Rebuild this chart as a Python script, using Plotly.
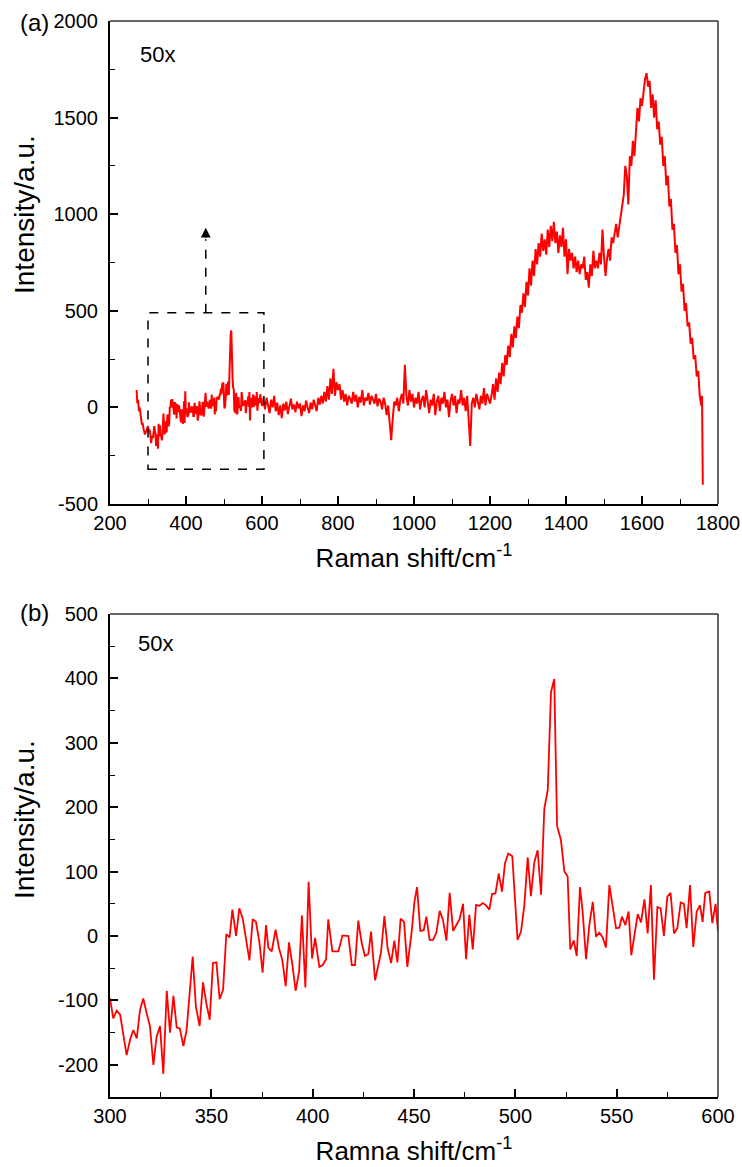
import plotly.graph_objects as go

# ---------------- data ----------------
# Panel (b): zoom of 300-600 cm-1 (same spectrum as panel a)
shift_b = [300, 301.6, 303.3, 305, 308.2, 309.9, 311.5, 313.2, 314.8, 316.4,
           318.1, 319.7, 321.4, 323, 324.7, 326.3, 328, 329.6, 331.3, 332.9,
           334.5, 336.2, 337.8, 339.5, 340.8, 342.4, 344.2, 345.9, 347.5, 349.2,
           350.8, 352.5, 354.1, 355.8, 357.4, 359, 360.4, 362.2, 363.8, 365.5,
           367.1, 368.8, 370.4, 372, 373.7, 375.3, 377, 378.1, 379.8, 381.7,
           383.4, 385, 386.7, 388.3, 390, 391.6, 393.3, 394.7, 396.4, 398,
           399.7, 401.2, 403.3, 405, 406.6, 407.7, 409.7, 412.7, 414.7, 417.6,
           419.3, 420.9, 422.5, 424.2, 425.8, 427.5, 428.8, 430.8, 432.4, 433.7,
           435.4, 437, 438.7, 440.3, 441.8, 443.4, 445.1, 446.7, 448.9, 450.2,
           451.5, 453.1, 454.8, 456.1, 457.7, 459.4, 461, 462.7, 464.3, 466,
           467.6, 469.3, 470.9, 472.5, 474.2, 475.7, 477.3, 479, 480.6, 482.3,
           483.9, 485.5, 487.2, 488.5, 490.2, 491.8, 493.4, 494.9, 496.5, 498.5,
           501.1, 502.8, 504.4, 506.1, 507.7, 509.4, 511, 512.7, 514.3, 516,
           517.6, 519.2, 520.6, 522.5, 524.2, 525.8, 527.1, 528.8, 530.3, 531.9,
           533.2, 534.9, 536.5, 538.2, 539.8, 541.4, 543.1, 544.7, 546.4, 548,
           549.7, 551.3, 552.6, 554.3, 555.9, 557.2, 558.9, 560.4, 562, 563.7,
           565.3, 566.9, 568.4, 570.1, 571.7, 573.3, 575, 576.6, 578.3, 579.9,
           581.6, 583.2, 584.5, 586.2, 587.8, 589.5, 591.1, 592.4, 593.7, 595.7,
           597.2, 598.8, 600]
intensity_b = [-97, -128, -116, -122, -185, -161, -146, -159, -115, -97,
               -120, -140, -200, -156, -140, -214, -85, -150, -93, -142,
               -144, -171, -146, -79, -32, -110, -140, -72, -104, -130,
               -42, -41, -98, -83, 3, -2, 41, 0, 43, 27,
               -5, -38, 26, 22, -9, -57, 17, -18, -24, 10,
               -19, -37, -78, -10, -45, -85, -55, 32, -80, 84,
               -35, -3, -48, -45, -36, 26, -24, -24, 1, 0,
               -45, -45, 24, -11, -31, -28, 7, -69, -45, -26,
               31, -19, -42, -7, -41, 27, 22, -48, 8, 53,
               76, 8, 9, 30, -6, -6, 5, 39, 25, -7,
               67, 8, 17, 26, 50, -36, 33, -21, 48, 47,
               51, 48, 41, 65, 66, 97, 69, 113, 128, 124,
               -6, 7, 46, 122, 62, 115, 133, 64, 198, 227,
               379, 399, 171, 149, 100, 93, -21, -7, -31, 76,
               38, -36, 17, 53, -1, 5, -2, -18, 79, 43,
               12, 13, 30, 17, 38, -30, 4, 34, 21, 57,
               4, 79, -68, 45, 43, 0, 61, 67, 4, 12,
               52, 50, 12, 79, -17, 38, 48, 22, 67, 69,
               20, 50, 7]

# Panel (a): parts of the spectrum outside the 300-600 window
shift_low = [270, 272, 274, 276, 278, 280, 282, 284, 286, 288, 290, 292, 294, 296, 298]
intensity_low = [90, 20, 40, -20, 0, -50, -60, -90, -80, -110, -120, -140, -130, -120, -110]

shift_high = [604, 608, 612, 616, 620, 624, 628, 632, 636, 640,
              644, 648, 652, 656, 660, 664, 668, 672, 676, 680,
              684, 688, 692, 696, 700, 704, 708, 712, 716, 720,
              724, 728, 732, 736, 740, 744, 748, 752, 756, 760,
              764, 768, 772, 776, 780, 784, 788, 792, 796, 800,
              804, 808, 812, 816, 820, 824, 828, 832, 836, 840,
              844, 848, 852, 856, 860, 864, 868, 872, 876, 880,
              884, 888, 892, 896, 900, 904, 908, 912, 916, 920,
              924, 928, 932, 936, 940, 944, 948, 952, 956, 960,
              964, 968, 972, 976, 980, 984, 988, 992, 996, 1000,
              1004, 1008, 1012, 1016, 1020, 1024, 1028, 1032, 1036, 1040,
              1044, 1048, 1052, 1056, 1060, 1064, 1068, 1072, 1076, 1080,
              1084, 1088, 1092, 1096, 1100, 1104, 1108, 1112, 1116, 1120,
              1124, 1128, 1132, 1136, 1140, 1144, 1148, 1152, 1156, 1160,
              1164, 1168, 1172, 1176, 1180, 1184, 1188, 1192, 1196, 1200,
              1204, 1208, 1212, 1216, 1220, 1224, 1228, 1232, 1236, 1240,
              1244, 1248, 1252, 1256, 1260, 1264, 1268, 1272, 1276, 1280,
              1284, 1288, 1292, 1296, 1300, 1304, 1308, 1312, 1316, 1320,
              1324, 1328, 1332, 1336, 1340, 1344, 1348, 1352, 1356, 1360,
              1364, 1368, 1372, 1376, 1380, 1384, 1388, 1392, 1396, 1400,
              1404, 1408, 1412, 1416, 1420, 1424, 1428, 1432, 1436, 1440,
              1444, 1448, 1452, 1456, 1460, 1464, 1468, 1472, 1476, 1480,
              1484, 1488, 1492, 1496, 1500, 1504, 1508, 1512, 1516, 1520,
              1524, 1528, 1532, 1536, 1540, 1544, 1548, 1552, 1556, 1560,
              1564, 1568, 1572, 1576, 1580, 1584, 1588, 1592, 1596, 1600,
              1604, 1608, 1612, 1616, 1620, 1624, 1628, 1632, 1636, 1640,
              1644, 1648, 1652, 1656, 1660, 1664, 1668, 1672, 1676, 1680,
              1684, 1688, 1692, 1696, 1700, 1704, 1708, 1712, 1716, 1720,
              1724, 1728, 1732, 1736, 1740, 1744, 1748, 1752, 1756, 1758, 1760]
intensity_high = [35, -10, 50, 10, -30, 40, 0, 60, -20, 25,
                  -40, 10, -55, 20, -15, 30, -35, 5, 45, -10,
                  15, -25, 30, -5, 20, -45, 10, -20, 35, 0,
                  -30, 25, -10, 40, 5, -20, 50, 15, 60, 20,
                  80, 30, 110, 40, 150, 70, 200, 60, 130, 90,
                  120, 40, 90, 30, 70, 10, 60, 45, 20, 80,
                  30, 65, 0, 55, 25, 90, 10, 50, 35, 75,
                  15, 60, 40, 20, 70, 5, 45, 30, -10, 50,
                  20, -40, 10, -90, -170, -60, 30, 10, 50, -20,
                  40, 70, 20, 220, 60, 10, 90, 30, 70, 0,
                  50, 20, 80, -10, 40, 60, 0, 90, 30, -30,
                  40, 10, 70, -40, 30, 60, -20, 50, 20, 80,
                  0, 40, -50, 30, 70, 10, 60, -30, 40, 20,
                  90, 10, 50, -20, 60, -60, -200, 20, 50, 0,
                  70, 30, -10, 60, 20, 100, 10, 70, 40, 20,
                  60, 120, 40, 150, 80, 180, 120, 230, 160, 270,
                  220, 320, 260, 380, 310, 420, 360, 470, 410, 530,
                  490, 590, 520, 650, 580, 720, 630, 760, 680, 820,
                  740, 850, 780, 900, 810, 870, 790, 920, 830, 940,
                  860, 960, 850, 910, 800, 890, 830, 930, 780, 870,
                  690, 820, 760, 800, 720, 780, 700, 760, 690, 740,
                  720, 780, 660, 700, 620, 740, 680, 810, 720, 760,
                  720, 800, 740, 920, 780, 680, 770, 820, 760, 880,
                  850, 900, 950, 880, 940, 1000, 1060, 1100, 1250, 1200,
                  1050, 1300, 1250, 1380, 1300, 1450, 1550, 1480, 1600, 1560,
                  1650, 1700, 1730, 1660, 1690, 1550, 1620, 1500, 1590, 1440,
                  1480, 1360, 1400, 1250, 1300, 1150, 1200, 1040, 1080, 920,
                  950, 800, 840, 690, 740, 600, 640, 500, 540, 420,
                  440, 330, 360, 250, 270, 160, 190, 60, 10, 60, -400]

shift_a = shift_low + shift_b + shift_high
intensity_a = intensity_low + intensity_b + intensity_high

# tick labels
xticks_a = [200, 400, 600, 800, 1000, 1200, 1400, 1600, 1800]
yticks_a = [-500, 0, 500, 1000, 1500, 2000]
xticks_b = [300, 350, 400, 450, 500, 550, 600]
yticks_b = [-200, -100, 0, 100, 200, 300, 400, 500]
xticktext_a = [str(v) for v in xticks_a]
yticktext_a = [str(v) for v in yticks_a]
xticktext_b = [str(v) for v in xticks_b]
yticktext_b = [str(v) for v in yticks_b]

# highlighted window in panel (a) and arrow
box_x = [300, 605]
box_y = [-320, 490]
arrow_x = 452
arrow_y = [490, 930]

# ---------------- figure ----------------
W, H = 742, 1167
FONT = "Liberation Sans, Arial, sans-serif"
RED = "#ff0000"

fig = go.Figure()
fig.add_trace(go.Scatter(x=shift_a, y=intensity_a, mode="lines",
                         line=dict(color=RED, width=2), xaxis="x", yaxis="y",
                         showlegend=False, hoverinfo="skip"))
fig.add_trace(go.Scatter(x=shift_b, y=intensity_b, mode="lines",
                         line=dict(color=RED, width=1.8), xaxis="x2", yaxis="y2",
                         showlegend=False, hoverinfo="skip"))

xdom = [110 / W, 718 / W]
ydom_a = [1 - 504 / H, 1 - 21 / H]
ydom_b = [1 - 1097 / H, 1 - 614 / H]

tickfont = dict(family=FONT, size=20, color="black")
titlefont = dict(family=FONT, size=26, color="black")


def axis_common(standoff):
    return dict(showgrid=False, zeroline=False, showline=True, linecolor="black",
                linewidth=2, mirror=False, ticks="inside", ticklen=8, tickwidth=1.5,
                tickcolor="black", tickfont=tickfont, tickmode="array",
                ticklabelstandoff=standoff, automargin=False)


fig.update_layout(
    width=W, height=H, margin=dict(l=0, r=0, t=0, b=0),
    paper_bgcolor="white", plot_bgcolor="white",
    font=dict(family=FONT, color="black"),
    xaxis=dict(**axis_common(0), domain=xdom, anchor="y", range=[200, 1800],
               tickvals=xticks_a, ticktext=xticktext_a,
               minor=dict(ticks="inside", ticklen=5, tickwidth=1.2, tickcolor="black",
                          tickmode="linear", tick0=200, dtick=100),
               title=dict(text="Raman shift/cm<sup>-1</sup>", font=titlefont, standoff=16)),
    yaxis=dict(**axis_common(6), domain=ydom_a, anchor="x", range=[-500, 2000],
               tickvals=yticks_a, ticktext=yticktext_a,
               minor=dict(ticks="inside", ticklen=5, tickwidth=1.2, tickcolor="black",
                          tickmode="linear", tick0=-500, dtick=250)),
    xaxis2=dict(**axis_common(0), domain=xdom, anchor="y2", range=[300, 600],
                tickvals=xticks_b, ticktext=xticktext_b,
                minor=dict(ticks="inside", ticklen=5, tickwidth=1.2, tickcolor="black",
                           tickmode="linear", tick0=300, dtick=25),
                title=dict(text="Ramna shift/cm<sup>-1</sup>", font=titlefont, standoff=16)),
    yaxis2=dict(**axis_common(6), domain=ydom_b, anchor="x2", range=[-250, 500],
                tickvals=yticks_b, ticktext=yticktext_b,
                minor=dict(ticks="inside", ticklen=5, tickwidth=1.2, tickcolor="black",
                           tickmode="linear", tick0=-250, dtick=50)),
)

# top / right frame lines (thinner, dark grey)
for xr, yr in (("x domain", "y domain"), ("x2 domain", "y2 domain")):
    fig.add_shape(type="line", xref=xr, yref=yr, x0=0, x1=1, y0=1, y1=1,
                  line=dict(color="#333333", width=1.5))
    fig.add_shape(type="line", xref=xr, yref=yr, x0=1, x1=1, y0=0, y1=1,
                  line=dict(color="#333333", width=1.5))

# dashed box and dashed arrow in panel (a)
fig.add_shape(type="rect", xref="x", yref="y", x0=box_x[0], x1=box_x[1],
              y0=box_y[0], y1=box_y[1], line=dict(color="black", width=1.5, dash="dash"))
fig.add_shape(type="line", xref="x", yref="y", x0=arrow_x, x1=arrow_x,
              y0=arrow_y[0], y1=arrow_y[1] - 60, line=dict(color="black", width=1.5, dash="dash"))
fig.add_annotation(x=arrow_x, y=arrow_y[1], xref="x", yref="y", ax=arrow_x, ay=arrow_y[1] - 60,
                   axref="x", ayref="y", text="", showarrow=True, arrowhead=2,
                   arrowsize=1.3, arrowwidth=1.5, arrowcolor="black")

# labels (panel tags, magnification, y-axis titles)
labels = [("(a)", 34, 22, 24, 0), ("(b)", 34, 612, 24, 0),
          ("50x", 157, 54, 22, 0), ("50x", 155, 643, 22, 0),
          ("Intensity/a.u.", 24, 215, 28, -90), ("Intensity/a.u.", 24, 820, 28, -90)]
for txt, px, py, fs, ang in labels:
    fig.add_annotation(text=txt, x=px / W, y=1 - py / H, xref="paper", yref="paper",
                       xanchor="center", yanchor="middle", showarrow=False, textangle=ang,
                       font=dict(family=FONT, size=fs, color="black"))

fig.write_html("out.html", config={"displayModeBar": False})
